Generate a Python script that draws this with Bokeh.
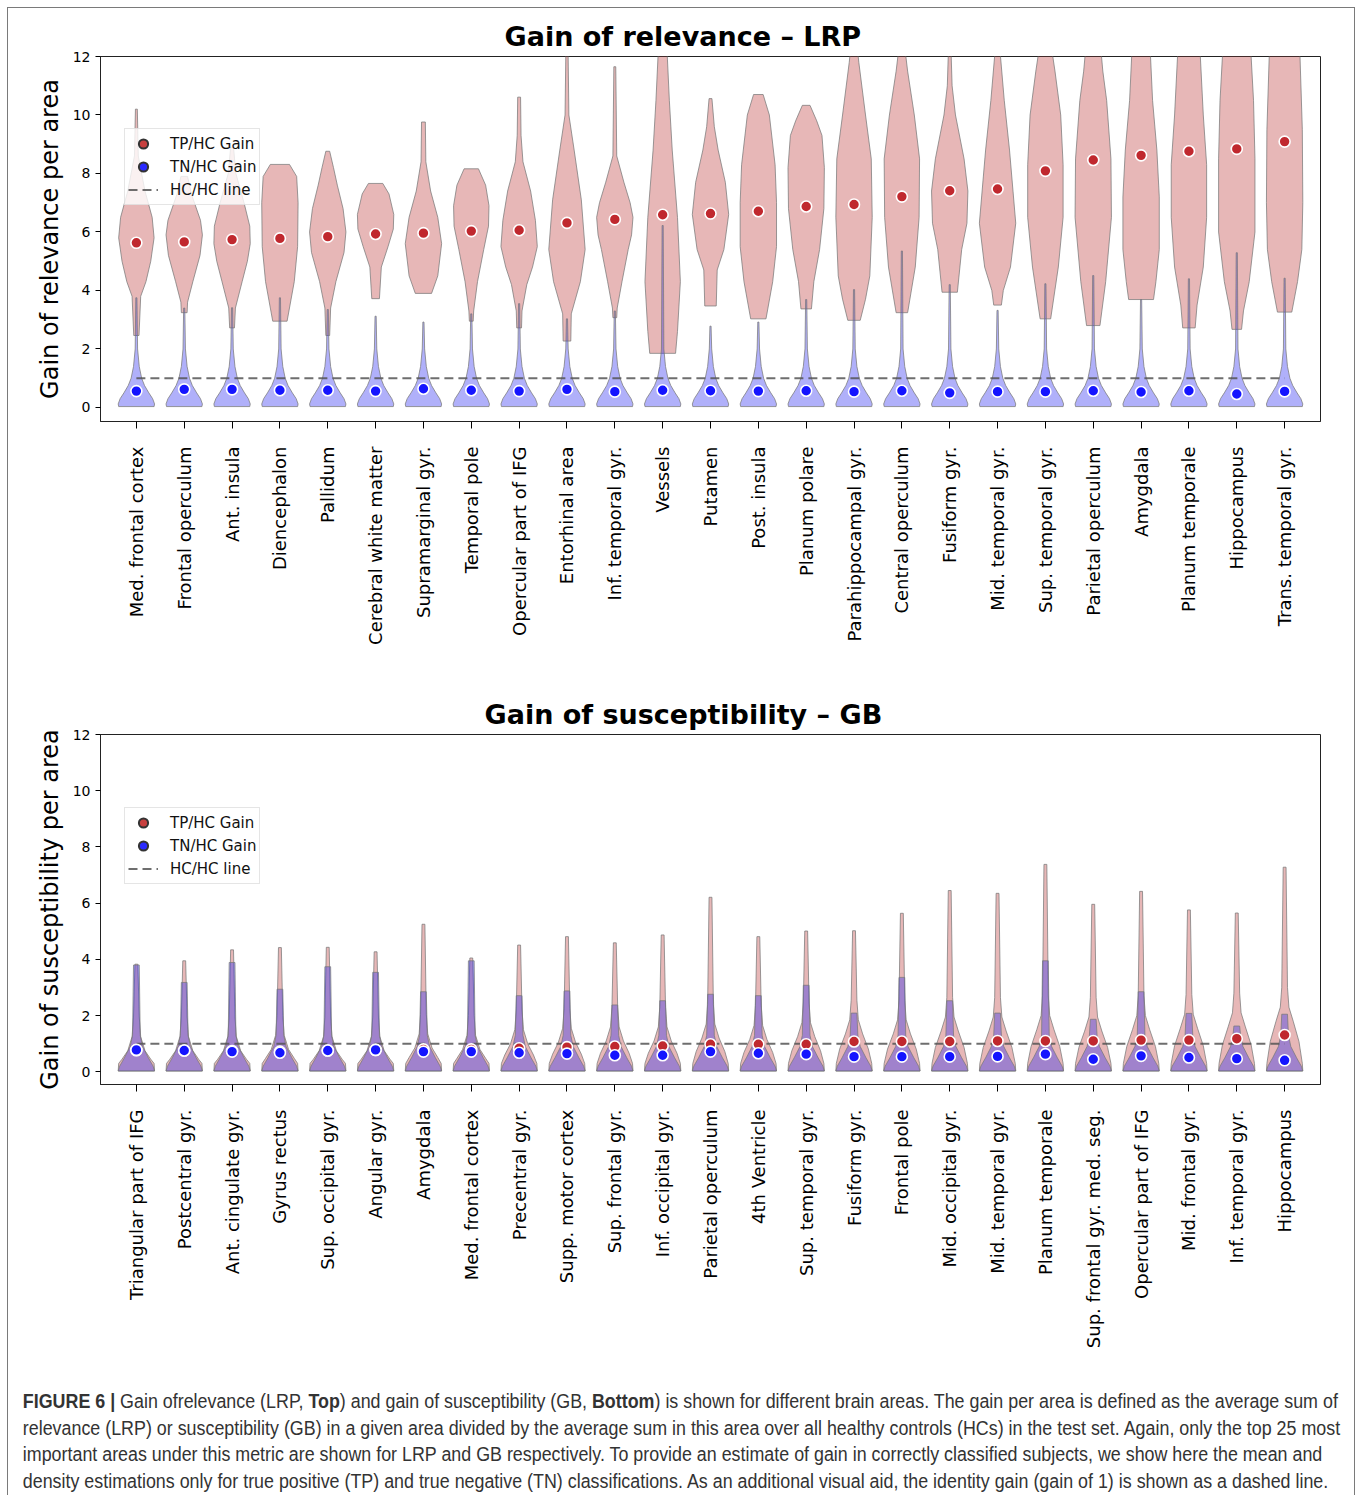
import math
from bokeh.plotting import figure
from bokeh.models import FixedTicker, Legend, LegendItem, Div, Range1d
from bokeh.layouts import column
from bokeh.embed import file_html
from bokeh.resources import INLINE

# ---------------- data: top panel (LRP) ----------------
LRP_AREAS = ["Med. frontal cortex", "Frontal operculum", "Ant. insula", "Diencephalon", "Pallidum",
             "Cerebral white matter", "Supramarginal gyr.", "Temporal pole", "Opercular part of IFG",
             "Entorhinal area", "Inf. temporal gyr.", "Vessels", "Putamen", "Post. insula",
             "Planum polare", "Parahippocampal gyr.", "Central operculum", "Fusiform gyr.",
             "Mid. temporal gyr.", "Sup. temporal gyr.", "Parietal operculum", "Amygdala",
             "Planum temporale", "Hippocampus", "Trans. temporal gyr."]
LRP_TP_MEAN = [5.63, 5.66, 5.74, 5.78, 5.84, 5.93, 5.96, 6.03, 6.06, 6.31, 6.43, 6.59, 6.63,
               6.71, 6.87, 6.94, 7.21, 7.41, 7.47, 8.09, 8.46, 8.62, 8.76, 8.84, 9.09]
LRP_TN_MEAN = [0.56, 0.62, 0.62, 0.59, 0.59, 0.56, 0.64, 0.59, 0.56, 0.62, 0.54, 0.59, 0.57,
               0.56, 0.57, 0.54, 0.57, 0.50, 0.54, 0.54, 0.57, 0.53, 0.57, 0.46, 0.55]
# TP density outline: (gain, half width in category units)
LRP_TP_DENSITY = [
    [(2.46, .055), (3.8, .09), (4.3, .2), (5.0, .3), (5.8, .37), (6.5, .33), (7.4, .18), (8.6, .04), (10.2, .02)],
    [(3.24, .06), (3.6, .07), (4.3, .18), (5.2, .33), (5.9, .38), (6.4, .34), (7.3, .15), (7.9, .07)],
    [(2.72, .05), (3.4, .07), (4.3, .21), (5.0, .32), (5.6, .38), (6.2, .37), (7.0, .25), (8.0, .08), (8.9, .03)],
    [(2.95, .15), (3.4, .2), (4.3, .3), (5.5, .37), (7.0, .38), (7.9, .35), (8.31, .2)],
    [(2.46, .04), (3.4, .06), (4.3, .17), (5.3, .34), (6.0, .38), (6.8, .32), (7.6, .2), (8.2, .12), (8.76, .04)],
    [(3.72, .08), (4.8, .12), (5.5, .26), (6.1, .37), (6.6, .38), (7.3, .28), (7.66, .15)],
    [(3.9, .17), (4.5, .3), (5.6, .38), (6.5, .3), (7.4, .15), (8.4, .05), (9.76, .04)],
    [(2.95, .04), (3.3, .05), (4.3, .13), (5.4, .26), (6.2, .36), (6.9, .37), (7.6, .3), (8.16, .15)],
    [(2.72, .05), (3.3, .06), (4.2, .16), (4.8, .28), (5.5, .38), (6.4, .34), (7.4, .24), (8.4, .08), (9.3, .04), (10.61, .03)],
    [(2.27, .08), (3.2, .09), (4.3, .28), (5.4, .38), (7.1, .3), (8.8, .15), (10.0, .04), (12.6, .02)],
    [(3.07, .04), (3.4, .05), (4.3, .15), (5.4, .28), (5.9, .35), (6.5, .38), (7.0, .32), (7.7, .19), (8.6, .04), (11.65, .02)],
    [(1.85, .27), (2.6, .31), (4.3, .37), (6.5, .31), (8.8, .2), (10.5, .14), (12.6, .08)],
    [(3.47, .12), (4.7, .14), (5.4, .28), (6.6, .38), (7.7, .31), (8.8, .16), (9.6, .08), (10.56, .03)],
    [(3.03, .16), (4.3, .3), (5.5, .38), (7.0, .38), (8.3, .35), (10.0, .23), (10.7, .1)],
    [(3.37, .11), (4.3, .16), (5.4, .28), (6.8, .37), (8.2, .38), (9.3, .33), (9.8, .22), (10.33, .08)],
    [(2.98, .13), (3.7, .24), (4.5, .33), (6.5, .38), (8.5, .36), (10.0, .24), (11.8, .1), (12.6, .05)],
    [(3.24, .12), (4.8, .28), (6.5, .36), (8.5, .37), (10.0, .26), (11.5, .12), (12.6, .04)],
    [(3.94, .16), (5.4, .25), (6.3, .36), (7.4, .38), (8.5, .3), (10.0, .12), (11.0, .05), (12.6, .02)],
    [(3.5, .08), (4.0, .12), (4.8, .27), (6.3, .38), (8.8, .25), (10.5, .14), (12.6, .03)],
    [(3.03, .11), (4.8, .27), (6.5, .37), (8.3, .37), (10.0, .32), (11.5, .2), (12.6, .1)],
    [(2.8, .14), (4.3, .26), (6.5, .38), (8.5, .37), (10.5, .28), (11.5, .2), (12.6, .14)],
    [(3.69, .26), (4.3, .31), (5.4, .38), (7.2, .38), (8.8, .33), (10.5, .24), (12.6, .18)],
    [(2.72, .13), (3.5, .17), (4.8, .3), (6.5, .37), (8.3, .37), (10.0, .3), (12.6, .22)],
    [(2.67, .1), (3.3, .14), (4.3, .26), (6.0, .38), (8.5, .38), (10.5, .35), (12.6, .28)],
    [(3.26, .15), (4.3, .27), (5.4, .36), (7.0, .38), (9.5, .37), (12.6, .31)],
]
LRP_TN_MAX = [3.75, 3.4, 3.41, 3.75, 3.35, 3.12, 2.92, 3.2, 3.55, 3.03, 3.3, 6.22, 2.78,
              2.92, 3.69, 4.03, 5.35, 4.2, 3.32, 4.23, 4.51, 3.69, 4.4, 5.29, 4.42]
LRP_TN_BASE = [(0.03, .37), (0.12, .38), (0.3, .34), (0.5, .26), (0.75, .17), (1.0, .11), (1.4, .06), (2.0, .025)]

# ---------------- data: bottom panel (GB) ----------------
GB_AREAS = ["Triangular part of IFG", "Postcentral gyr.", "Ant. cingulate gyr.", "Gyrus rectus",
            "Sup. occipital gyr.", "Angular gyr.", "Amygdala", "Med. frontal cortex", "Precentral gyr.",
            "Supp. motor cortex", "Sup. frontal gyr.", "Inf. occipital gyr.", "Parietal operculum",
            "4th Ventricle", "Sup. temporal gyr.", "Fusiform gyr.", "Frontal pole", "Mid. occipital gyr.",
            "Mid. temporal gyr.", "Planum temporale", "Sup. frontal gyr. med. seg.", "Opercular part of IFG",
            "Mid. frontal gyr.", "Inf. temporal gyr.", "Hippocampus"]
GB_TP_MEAN = [0.77, 0.76, 0.74, 0.72, 0.76, 0.78, 0.80, 0.80, 0.84, 0.88, 0.90, 0.92, 0.98,
              0.98, 0.98, 1.08, 1.08, 1.08, 1.10, 1.10, 1.10, 1.13, 1.13, 1.18, 1.31]
GB_TN_MEAN = [0.78, 0.76, 0.72, 0.68, 0.76, 0.78, 0.72, 0.72, 0.68, 0.65, 0.59, 0.59, 0.72,
              0.66, 0.63, 0.54, 0.54, 0.54, 0.55, 0.63, 0.45, 0.57, 0.51, 0.47, 0.41]
GB_TP_MAX = [3.83, 3.95, 4.34, 4.42, 4.43, 4.27, 5.25, 4.05, 4.51, 4.81, 4.59, 4.87, 6.21,
             4.81, 5.01, 5.02, 5.64, 6.45, 6.35, 7.38, 5.96, 6.42, 5.76, 5.65, 7.28]
GB_TP_SHOULDER = [0.75, 0.75, 0.75, 0.8, 0.75, 0.75, 0.85, 0.8, 1.0, 1.05, 1.1, 1.1, 1.2,
                  1.15, 1.25, 1.35, 1.35, 1.45, 1.45, 1.5, 1.45, 1.5, 1.55, 1.6, 1.8]
GB_TN_MAX = [3.8, 3.18, 3.89, 2.94, 3.74, 3.54, 2.85, 3.95, 2.71, 2.88, 2.38, 2.53, 2.76,
             2.71, 3.08, 2.09, 3.36, 2.53, 2.09, 3.95, 1.87, 2.85, 2.08, 1.63, 2.05]
GB_TN_BASE = [(0.03, .38), (0.2, .35), (0.5, .25), (0.9, .13), (1.3, .08)]

HC_GAIN = 1.0
Y_TICKS = [0, 2, 4, 6, 8, 10, 12]
LEGEND_LABELS = ["TP/HC Gain", "TN/HC Gain", "HC/HC line"]
CAPTION_LINES = [
    "<b>FIGURE 6 |</b> Gain ofrelevance (LRP, <b>Top</b>) and gain of susceptibility (GB, <b>Bottom</b>) is shown for different brain areas. The gain per area is defined as the average sum of",
    "relevance (LRP) or susceptibility (GB) in a given area divided by the average sum in this area over all healthy controls (HCs) in the test set. Again, only the top 25 most",
    "important areas under this metric are shown for LRP and GB respectively. To provide an estimate of gain in correctly classified subjects, we show here the mean and",
    "density estimations only for true positive (TP) and true negative (TN) classifications. As an additional visual aid, the identity gain (gain of 1) is shown as a dashed line.",
]

PINK = "#c24a4a"
BLUE = "#2323f0"
EDGE = "#7a7a7a"
FONT = "DejaVu Sans"


def outline(cx, knots):
    xs = [cx + w for _, w in knots] + [cx - w for _, w in reversed(knots)]
    ys = [y for y, _ in knots] + [y for y, _ in reversed(knots)]
    return xs, ys


def build(areas, tp_knots, tn_knots, tp_mean, tn_mean, title, title_x, ylabel, height, top,
          bottom, ylo, legend_y):
    n = len(areas)
    p = figure(width=1346, height=height, output_backend="svg", toolbar_location=None,
               x_range=Range1d(-0.75, n - 0.25), y_range=Range1d(ylo, 12),
               min_border_left=92, min_border_right=34, min_border_top=top,
               min_border_bottom=bottom)
    p.background_fill_color = "white"
    p.border_fill_color = "white"
    p.outline_line_color = "#222222"
    p.outline_line_width = 1
    p.grid.visible = False

    pxs, pys = zip(*[outline(i, k) for i, k in enumerate(tp_knots)])
    p.patches(list(pxs), list(pys), fill_color=PINK, fill_alpha=0.4,
              line_color=EDGE, line_alpha=0.75, line_width=1)
    bxs, bys = zip(*[outline(i, k) for i, k in enumerate(tn_knots)])
    p.patches(list(bxs), list(bys), fill_color=BLUE, fill_alpha=0.36,
              line_color=EDGE, line_alpha=0.75, line_width=1)

    hc = p.line([0, n - 1], [HC_GAIN, HC_GAIN], line_color="#555555", line_alpha=0.85,
                line_width=2, line_dash="9 5")
    p.scatter(list(range(n)), tp_mean, size=11, fill_color="#c0282e", line_color="white",
              line_width=1.6)
    p.scatter(list(range(n)), tn_mean, size=11, fill_color="#1414ff", line_color="white",
              line_width=1.6)

    # legend-only markers (a NaN point is never drawn in the plot area)
    leg_tp = p.scatter([0], [math.nan], size=14, fill_color="#c8403f",
                       line_color="#333333", line_width=2)
    leg_tn = p.scatter([0], [math.nan], size=14, fill_color="#2a2aff",
                       line_color="#333333", line_width=2)
    legend = Legend(items=[LegendItem(label=LEGEND_LABELS[0], renderers=[leg_tp]),
                           LegendItem(label=LEGEND_LABELS[1], renderers=[leg_tn]),
                           LegendItem(label=LEGEND_LABELS[2], renderers=[hc])],
                    location=(24, legend_y))
    legend.label_text_font = FONT
    legend.label_text_font_size = "15px"
    legend.label_text_color = "#111111"
    legend.glyph_width = 30
    legend.glyph_height = 23
    legend.label_height = 19
    legend.label_standoff = 12
    legend.spacing = 0
    legend.padding = 3
    legend.margin = 0
    legend.border_line_color = "#cccccc"
    legend.border_line_width = 1
    legend.background_fill_alpha = 0.8
    p.add_layout(legend)

    p.title.text = title
    p.title.align = "left"
    p.title.offset = title_x
    p.title.standoff = 10
    p.title.text_font = FONT
    p.title.text_font_style = "bold"
    p.title.text_font_size = "27px"
    p.title.text_color = "black"

    xa = p.xaxis[0]
    xa.ticker = FixedTicker(ticks=list(range(n)))
    xa.major_label_overrides = {i: a for i, a in enumerate(areas)}
    xa.major_label_orientation = math.pi / 2
    xa.major_label_text_font = FONT
    xa.major_label_text_font_size = "18px"
    xa.major_label_text_color = "black"
    xa.major_label_standoff = 18
    xa.major_tick_out = 7
    xa.major_tick_in = 0
    xa.minor_tick_out = 0
    xa.axis_line_color = "#222222"

    ya = p.yaxis[0]
    ya.ticker = FixedTicker(ticks=Y_TICKS)
    ya.major_label_text_font = FONT
    ya.major_label_text_font_size = "14px"
    ya.major_label_text_color = "black"
    ya.major_label_standoff = 5
    ya.major_tick_out = 5
    ya.major_tick_in = 0
    ya.minor_tick_out = 0
    ya.minor_tick_in = 0
    ya.axis_line_color = "#222222"
    ya.axis_label = ylabel
    ya.axis_label_text_font = FONT
    ya.axis_label_text_font_style = "normal"
    ya.axis_label_text_font_size = "24px"
    ya.axis_label_text_color = "black"
    ya.axis_label_standoff = 6
    return p


lrp_tn_knots = [LRP_TN_BASE + [(m, 0.012)] for m in LRP_TN_MAX]
p1 = build(LRP_AREAS, LRP_TP_DENSITY, lrp_tn_knots, LRP_TP_MEAN, LRP_TN_MEAN,
           "Gain of relevance – LRP", 404, "Gain of relevance per area", 670, 48, 257, -0.48, 216)

gb_tp_knots = [[(0.03, .38), (0.3, .37), (0.6 * s, .3), (s, .18), (s + 0.5, .09), (s + 1.2, .06), (m, .03)]
               for s, m in zip(GB_TP_SHOULDER, GB_TP_MAX)]
gb_tn_knots = [GB_TN_BASE + [(m, .06)] for m in GB_TN_MAX]
p2 = build(GB_AREAS, gb_tp_knots, gb_tn_knots, GB_TP_MEAN, GB_TN_MEAN,
           "Gain of susceptibility – GB", 384, "Gain of susceptibility per area", 693, 56, 287,
           -0.45, 200)

caption_html = ('<div style="font-family:\'Liberation Sans\',Arial,sans-serif;font-size:20px;'
                'line-height:26.7px;color:#333333;white-space:nowrap;padding:12px 0 0 11px;'
                'transform:scaleX(0.893);transform-origin:0 0;">'
                + "<br>".join(CAPTION_LINES) + "</div>")
cap = Div(text=caption_html, width=1346, height=124)

layout = column(p1, p2, cap, spacing=0, width=1348, height=1488, sizing_mode="fixed",
                styles={"border": "1px solid #7a7a7a", "border-bottom": "none",
                        "margin": "7px 0 0 7px", "box-sizing": "border-box"})

open("out.html", "w").write(file_html(layout, INLINE))
